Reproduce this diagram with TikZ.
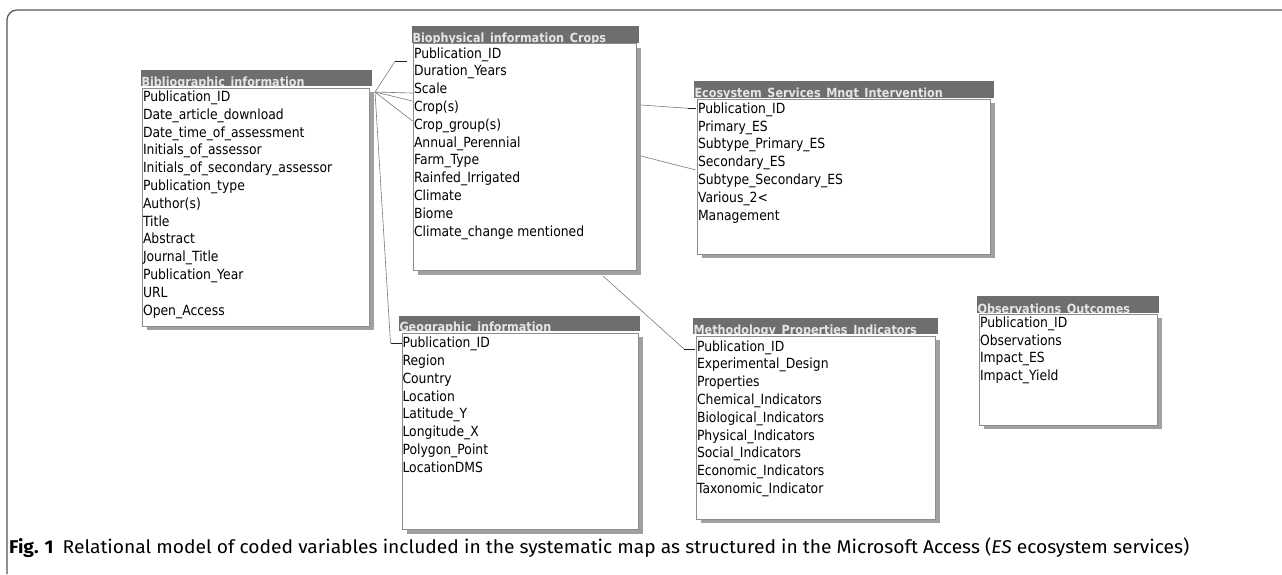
\documentclass[tikz,border=0pt]{standalone}
\usepackage{fontspec}
\setmainfont{DejaVu Sans}
\newfontfamily\rowfont[FakeStretch=0.885]{DejaVu Sans}
\newfontfamily\headfont[FakeStretch=0.89]{DejaVu Sans}
\newfontfamily\capfont[FakeStretch=1.04]{Fira Sans}
\definecolor{headc}{HTML}{6E6E6E}
\definecolor{headtxtc}{HTML}{E6E6E6}
\definecolor{shadc}{HTML}{A0A0A0}
\definecolor{borderc}{HTML}{8C8C8C}
\definecolor{linec}{HTML}{7A7A7A}
\definecolor{stubc}{HTML}{202020}
\definecolor{framec}{HTML}{555555}
\tikzset{
  rowtxt/.style={anchor=base west, inner sep=0pt, outer sep=0pt, text=black, font=\rowfont\fontsize{14}{16}\selectfont},
  headtxt/.style={anchor=base west, inner sep=0pt, outer sep=0pt, text=headtxtc, font=\headfont\bfseries\fontsize{12.6}{14}\selectfont},
  shadowbox/.style={fill=shadc, draw=none},
  bodybox/.style={draw=borderc, fill=white, line width=0.8pt},
  headbar/.style={fill=headc, draw=none},
  relline/.style={draw=linec, line width=0.6pt},
  relstub/.style={draw=stubc, line width=1pt},
  framestyle/.style={draw=framec, line width=1.2pt, rounded corners=10pt},
  captxt/.style={anchor=base west, inner sep=0pt, font=\capfont\fontsize{18.5}{21}\selectfont}
}
\begin{document}
\begin{tikzpicture}[x=1pt, y=-1pt]
\useasboundingbox (0,0) rectangle (1282,574);
\draw[framestyle] (7,574) -- (7,10) -- (1282,10);

% ---------- Bibliographic_information
\fill[shadowbox] (147,92) rectangle (374,330);
\draw[bodybox] (142,88) rectangle (369,326);
\fill[headbar] (141,70) rectangle (372,86);
\begin{scope}\clip (141,70) rectangle (372,86);
\node[headtxt] (bibh) at (141.5,86) {Bibliographic\_information};
\end{scope}
\foreach \t [count=\i] in {Publication\_ID,Date\_article\_download,Date\_time\_of\_assessment,Initials\_of\_assessor,Initials\_of\_secondary\_assessor,Publication\_type,Author(s),Title,Abstract,Journal\_Title,Publication\_Year,URL,Open\_Access}
  \node[rowtxt] (bib\i) at (143,{101.5+(\i-1)*17.8}) {\t};

% ---------- Biophysical_information_Crops
\fill[shadowbox] (418,48) rectangle (641,275);
\draw[bodybox] (413,43.5) rectangle (636,270);
\fill[headbar] (412,26) rectangle (639,42.5);
\begin{scope}\clip (412,26) rectangle (639,42.5);
\node[headtxt] (bioh) at (412.5,42.5) {Biophysical\_information\_Crops};
\end{scope}
\foreach \t [count=\i] in {Publication\_ID,Duration\_Years,Scale,Crop(s),Crop\_group(s),Annual\_Perennial,Farm\_Type,Rainfed\_Irrigated,Climate,Biome,Climate\_change mentioned}
  \node[rowtxt] (bio\i) at (414,{58+(\i-1)*17.8}) {\t};

% ---------- Ecosystem_Services_Mngt_Intervention
\fill[shadowbox] (702,103) rectangle (995,258);
\draw[bodybox] (697,99) rectangle (990,254);
\fill[headbar] (694,81) rectangle (994,97.5);
\begin{scope}\clip (694,81) rectangle (994,97.5);
\node[headtxt] (ecoh) at (694.5,97.5) {Ecosystem\_Services\_Mngt\_Intervention};
\end{scope}
\foreach \t [count=\i] in {Publication\_ID,Primary\_ES,Subtype\_Primary\_ES,Secondary\_ES,Subtype\_Secondary\_ES,Various\_2<,Management}
  \node[rowtxt] (eco\i) at (698,{113.3+(\i-1)*17.8}) {\t};

% ---------- Geographic_information
\fill[shadowbox] (407,337) rectangle (643,534);
\draw[bodybox] (402,333) rectangle (638,529);
\fill[headbar] (399,316) rectangle (640,331);
\begin{scope}\clip (399,316) rectangle (640,331);
\node[headtxt] (geoh) at (399.5,331) {Geographic\_information};
\end{scope}
\foreach \t [count=\i] in {Publication\_ID,Region,Country,Location,Latitude\_Y,Longitude\_X,Polygon\_Point,LocationDMS}
  \node[rowtxt] (geo\i) at (402.5,{347.7+(\i-1)*17.8}) {\t};

% ---------- Methodology_Properties_Indicators
\fill[shadowbox] (701,340) rectangle (940,523);
\draw[bodybox] (696,336) rectangle (935,519);
\fill[headbar] (693,318) rectangle (938,334);
\begin{scope}\clip (693,318) rectangle (938,334);
\node[headtxt] (meth) at (693.5,334) {Methodology\_Properties\_Indicators};
\end{scope}
\foreach \t [count=\i] in {Publication\_ID,Experimental\_Design,Properties,Chemical\_Indicators,Biological\_Indicators,Physical\_Indicators,Social\_Indicators,Economic\_Indicators,Taxonomic\_Indicator}
  \node[rowtxt] (met\i) at (697,{351+(\i-1)*17.8}) {\t};

% ---------- Observations_Outcomes
\fill[shadowbox] (984,318) rectangle (1162,429);
\draw[bodybox] (979,314) rectangle (1157,425);
\fill[headbar] (977,296) rectangle (1159,313);
\begin{scope}\clip (977,296) rectangle (1159,313);
\node[headtxt] (obsh) at (977.5,313) {Observations\_Outcomes};
\end{scope}
\foreach \t [count=\i] in {Publication\_ID,Observations,Impact\_ES,Impact\_Yield}
  \node[rowtxt] (obs\i) at (980,{327.7+(\i-1)*17.6}) {\t};

% ---------- connectors
\coordinate (hub) at (375,92);
\coordinate (bioA) at (395,61.5);
\coordinate (bioAs) at (407,61.5);
\coordinate (bioB) at (412.5,93);
\coordinate (bioC) at (412.5,101);
\coordinate (bioD) at (412.5,121);
\coordinate (geoA) at (390.5,343);
\coordinate (geoAs) at (401.5,343);
\coordinate (ecoS1) at (641,105);
\coordinate (ecoA) at (688,108.3);
\coordinate (ecoAs) at (696,108.3);
\coordinate (ecoS2) at (641,156);
\coordinate (ecoB) at (696,170);
\coordinate (metS) at (603,276);
\coordinate (metA) at (684,349);
\coordinate (metAs) at (695,349);

\draw[relline] (hub) -- (bioA);
\draw[relstub] (bioA) -- (bioAs);
\draw[relline] (hub) -- (bioB);
\draw[relline] (hub) -- (bioC);
\draw[relline] (hub) -- (bioD);
\draw[relline] (hub) -- (geoA);
\draw[relstub] (geoA) -- (geoAs);
\draw[relline] (ecoS1) -- (ecoA);
\draw[relstub] (ecoA) -- (ecoAs);
\draw[relline] (ecoS2) -- (ecoB);
\draw[relline] (metS) -- (metA);
\draw[relstub] (metA) -- (metAs);

% ---------- caption
\node[captxt] (cap) at (9,553) {\textbf{Fig. 1}\hspace{9pt}Relational model of coded variables included in the systematic map as structured in the Microsoft Access (\textit{ES} ecosystem services)};
\end{tikzpicture}
\end{document}
